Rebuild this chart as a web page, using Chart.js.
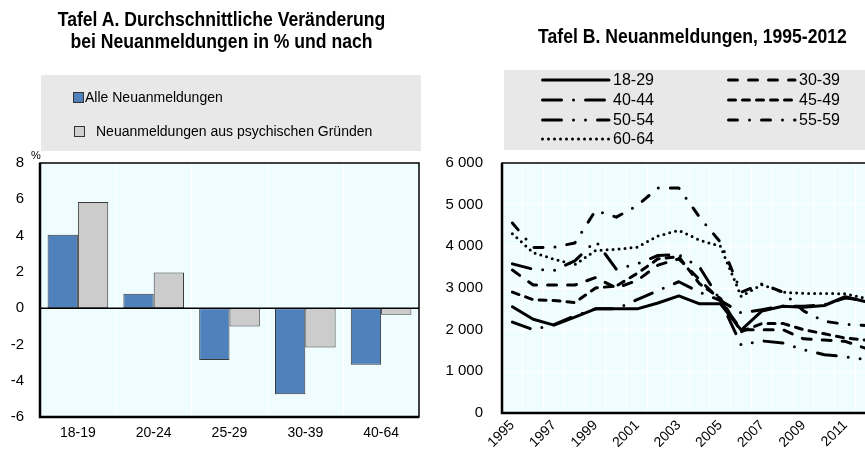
<!DOCTYPE html>
<html>
<head>
<meta charset="utf-8">
<script src="https://cdn.jsdelivr.net/npm/chart.js@4.4.1/dist/chart.umd.min.js"></script>
<style>
  body { margin: 0; width: 865px; height: 454px; overflow: hidden; position: relative; background: #fff;
         font-family: "Liberation Sans", Arial, sans-serif; color: #000; }
  .abs { position: absolute; }
  .title { font-family: "Liberation Sans", Arial, sans-serif; font-weight: bold;
           font-size: 20px; line-height: 22px; text-align: center; white-space: nowrap;
           transform: scaleX(0.88); transform-origin: center; }
  .leg { background: #e8e8e8; }
  .txt { font-size: 14px; line-height: 20px; white-space: nowrap; }
  .txtB { font-size: 16px; line-height: 20px; white-space: nowrap; }
  .sq { width: 9px; height: 9px; border: 1px solid #333; }
</style>
</head>
<body>
<!-- Tafel A -->
<div class="abs" style="left:0;top:0;width:430px;height:454px"><canvas id="chartA"></canvas></div>
<div class="abs title" style="left:0;top:8px;width:443px">Tafel A. Durchschnittliche Veränderung<br>bei Neuanmeldungen in % und nach</div>
<div class="abs leg" style="left:41px;top:75px;width:380px;height:76px"></div>
<div class="abs sq" style="left:73px;top:92px;background:#4f81bd"></div>
<div class="abs txt" style="left:85px;top:87px">Alle Neuanmeldungen</div>
<div class="abs sq" style="left:74px;top:126px;background:#d0d0d0"></div>
<div class="abs txt" style="left:96px;top:121px">Neuanmeldungen aus psychischen Gründen</div>
<div class="abs" style="left:31px;top:149px;font-size:11px">%</div>

<!-- Tafel B -->
<div class="abs" style="left:430px;top:0;width:452px;height:454px"><canvas id="chartB"></canvas></div>
<div class="abs title" style="left:482px;top:25px;width:421px">Tafel B. Neuanmeldungen, 1995-2012</div>
<div class="abs leg" style="left:504px;top:70px;width:370px;height:80px"></div>
<div id="legB"></div>

<script>
// Tafel A: Veränderung in % nach Altersgruppe
const ageGroupsA = ['18-19', '20-24', '25-29', '30-39', '40-64'];
const alleNeu = [4.05, 0.8, -2.86, -4.75, -3.12];
const psychNeu = [5.85, 1.96, -1.01, -2.17, -0.37];
const yTicksA = { min: -6, max: 8, step: 2 };

// Tafel B: Neuanmeldungen nach Alter, 1995-2012
const years = ['1995', '1996', '1997', '1998', '1999', '2000', '2001', '2002', '2003',
               '2004', '2005', '2006', '2007', '2008', '2009', '2010', '2011', '2012'];
const age18_29 = [2550, 2250, 2110, 2300, 2500, 2500, 2500, 2640, 2810, 2620, 2620, 1990, 2450, 2560, 2540, 2580, 2790, 2670];
const age30_39 = [3430, 3070, 3070, 3070, 3250, 3000, 3180, 3550, 3700, 3200, 2700, 2000, 2000, 2000, 1780, 1750, 1720, 1550];
const age40_44 = [2180, 2000, 2120, 2330, 2500, 2500, 2720, 2940, 3150, 2900, 2700, 2400, 2480, 2570, 2560, 2600, 2760, 2700];
const age45_49 = [2900, 2720, 2700, 2650, 3000, 3050, 3350, 3700, 3750, 3100, 2750, 1950, 2150, 2150, 2000, 1900, 1800, 1750];
const age50_54 = [3580, 3450, 3420, 3650, 4130, 3450, 3580, 3780, 3800, 3500, 2700, 1630, 1730, 1680, 1520, 1400, 1350, 1280];
const age55_59 = [4560, 3970, 3980, 4080, 4860, 4700, 4980, 5400, 5400, 4700, 4100, 2900, 3100, 2900, 2450, 2200, 2130, 2100];
const age60_64 = [4300, 3850, 3690, 3560, 3900, 3930, 3980, 4250, 4380, 4150, 4000, 2800, 3080, 2900, 2870, 2870, 2860, 2750];
const yTicksB = { min: 0, max: 6000, step: 1000 };

const seriesB = [
  { label: '18-29', data: age18_29, dash: [] },
  { label: '30-39', data: age30_39, dash: [9, 11] },
  { label: '40-44', data: age40_44, dash: [19, 12, 0, 12] },
  { label: '45-49', data: age45_49, dash: [7, 7] },
  { label: '50-54', data: age50_54, dash: [19, 12, 0, 12, 0, 12] },
  { label: '55-59', data: age55_59, dash: [9, 12, 0, 12] },
  { label: '60-64', data: age60_64, dash: [0, 6] }
];

const plotBg = '#effdff';
const tickFont = { family: "'Liberation Sans', Arial, sans-serif", size: 14 };

// background, frame and zero line around the plot area
const plotFrame = {
  id: 'plotFrame',
  beforeDraw(chart) {
    const { ctx, chartArea: a } = chart;
    ctx.save();
    ctx.fillStyle = plotBg;
    ctx.fillRect(a.left, a.top, a.width, a.height);
    ctx.restore();
  },
  afterDatasetsDraw(chart, args, opts) {
    const { ctx, chartArea: a } = chart;
    ctx.save();
    ctx.strokeStyle = '#000';
    if (opts.zero) {
      const y0 = chart.scales.y.getPixelForValue(0);
      ctx.lineWidth = 1.5;
      ctx.beginPath(); ctx.moveTo(a.left, y0); ctx.lineTo(a.right, y0); ctx.stroke();
    }
    ctx.lineWidth = 1.5;
    ctx.strokeRect(a.left, a.top, a.width, a.height);
    ctx.lineWidth = 2.5;
    ctx.beginPath();
    ctx.moveTo(a.left, a.top); ctx.lineTo(a.left, a.bottom); ctx.lineTo(a.right, a.bottom);
    ctx.stroke();
    ctx.restore();
  }
};

new Chart(document.getElementById('chartA'), {
  type: 'bar',
  data: {
    labels: ageGroupsA,
    datasets: [
      { label: 'Alle Neuanmeldungen', data: alleNeu, backgroundColor: '#4f81bd' },
      { label: 'Neuanmeldungen aus psychischen Gründen', data: psychNeu, backgroundColor: '#cccccc' }
    ]
  },
  options: {
    responsive: true,
    maintainAspectRatio: false,
    animation: false,
    layout: { padding: { top: 163, right: 11, bottom: 0, left: 0 } },
    datasets: {
      bar: { categoryPercentage: 0.8, barPercentage: 1.0, borderColor: '#3a3a3a', borderWidth: 1, borderSkipped: false }
    },
    plugins: { legend: { display: false }, tooltip: { enabled: false }, plotFrame: { zero: true } },
    scales: {
      x: {
        grid: { color: '#ffffff', lineWidth: 1, drawTicks: false },
        border: { display: false },
        ticks: { color: '#000', font: tickFont, padding: 8 },
        afterFit(scale) { scale.height = 37; }
      },
      y: {
        min: yTicksA.min, max: yTicksA.max,
        grid: { display: false, drawTicks: false },
        border: { display: false },
        ticks: { stepSize: yTicksA.step, color: '#000', font: { family: tickFont.family, size: 15 }, padding: 16 },
        afterFit(scale) { scale.width = 40; }
      }
    }
  },
  plugins: [plotFrame]
});

new Chart(document.getElementById('chartB'), {
  type: 'line',
  data: {
    labels: years,
    datasets: seriesB.map(s => ({
      label: s.label,
      data: s.data,
      borderColor: '#000',
      borderWidth: 3,
      borderDash: s.dash,
      borderCapStyle: 'round',
      borderJoinStyle: 'round',
      pointRadius: 0,
      tension: 0,
      fill: false
    }))
  },
  options: {
    responsive: true,
    maintainAspectRatio: false,
    animation: false,
    layout: { padding: { top: 163, right: 5, bottom: 0, left: 0 } },
    plugins: { legend: { display: false }, tooltip: { enabled: false }, plotFrame: { zero: false } },
    scales: {
      x: {
        offset: true,
        grid: { color: '#ffffff', lineWidth: 1, drawTicks: false, offset: true },
        border: { display: false },
        ticks: {
          color: '#000', font: { family: tickFont.family, size: 14 }, padding: 4,
          autoSkip: false, minRotation: 45, maxRotation: 45,
          callback(value, index) { return index % 2 === 0 ? this.getLabelForValue(value) : ''; }
        },
        afterFit(scale) { scale.height = 41; }
      },
      y: {
        min: yTicksB.min, max: yTicksB.max,
        grid: { color: '#ffffff', lineWidth: 1, drawTicks: false },
        border: { display: false },
        ticks: {
          stepSize: yTicksB.step, color: '#000', font: { family: tickFont.family, size: 15 }, padding: 19,
          callback: v => String(v).replace(/\B(?=(\d{3})+(?!\d))/g, ' ')
        },
        afterFit(scale) { scale.width = 72; }
      }
    }
  },
  plugins: [plotFrame]
});

// legend for Tafel B, two columns of line samples
const legPos = [
  [541, 80], [727, 80],
  [541, 100], [727, 100],
  [541, 120], [727, 120],
  [541, 139]
];
const legOrder = ['18-29', '30-39', '40-44', '45-49', '50-54', '55-59', '60-64'];
const legB = document.getElementById('legB');
legOrder.forEach((lab, i) => {
  const s = seriesB.find(d => d.label === lab);
  const [x, y] = legPos[i];
  const svg = document.createElementNS('http://www.w3.org/2000/svg', 'svg');
  svg.setAttribute('width', 72); svg.setAttribute('height', 8);
  svg.setAttribute('class', 'abs');
  svg.style.left = (x - 1) + 'px'; svg.style.top = (y - 4) + 'px';
  const ln = document.createElementNS('http://www.w3.org/2000/svg', 'line');
  ln.setAttribute('x1', 2.5); ln.setAttribute('x2', 69); ln.setAttribute('y1', 4); ln.setAttribute('y2', 4);
  ln.setAttribute('stroke', '#000'); ln.setAttribute('stroke-width', 3);
  ln.setAttribute('stroke-linecap', 'round');
  if (s.dash.length) ln.setAttribute('stroke-dasharray', s.dash.join(' '));
  svg.appendChild(ln);
  legB.appendChild(svg);
  const t = document.createElement('div');
  t.className = 'abs txtB';
  t.style.left = (x + 72) + 'px'; t.style.top = (y - 10) + 'px';
  t.textContent = lab;
  legB.appendChild(t);
});
</script>
</body>
</html>
